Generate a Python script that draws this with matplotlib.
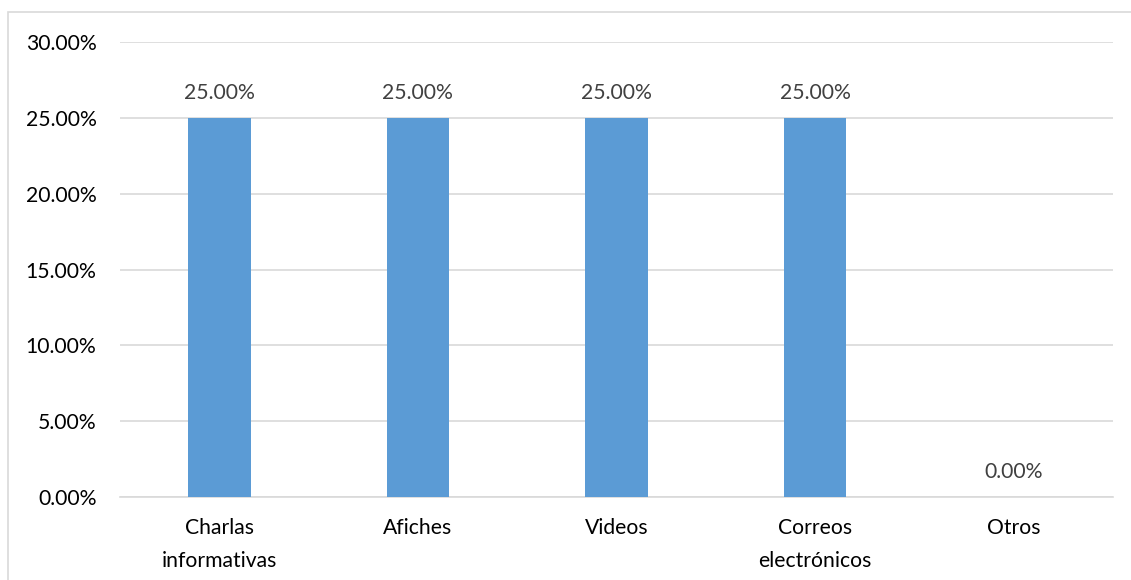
import matplotlib
matplotlib.use("Agg")
import matplotlib.pyplot as plt
from matplotlib.patches import Rectangle

categories = ["Charlas\ninformativas", "Afiches", "Videos", "Correos\nelectrónicos", "Otros"]
values = [0.25, 0.25, 0.25, 0.25, 0.0]
yticks = [0.0, 0.05, 0.10, 0.15, 0.20, 0.25, 0.30]

plt.rcParams['font.family'] = ['Lato', 'DejaVu Sans']

W, H = 1131, 580
fig = plt.figure(figsize=(W / 100, H / 100), dpi=100)
fig.patches.append(Rectangle((8 / W, -0.1), 1.2, 1 - 12 / H + 0.1, transform=fig.transFigure,
                             fill=False, edgecolor='#D9D9D9', linewidth=1.2))

ax = fig.add_axes([120 / W, 1 - 497 / H, (1113 - 120) / W, (497 - 42) / H])
x = list(range(len(categories)))
ax.bar(x, values, width=0.315, color='#5B9BD5', zorder=3)
ax.set_xlim(-0.5, len(categories) - 0.5)
ax.set_ylim(0, 0.30)
ax.set_yticks(yticks)
ax.set_yticklabels([f"{v*100:.2f}%" for v in yticks], fontsize=15.2, color='#000000')
ax.set_xticks(x)
ax.set_xticklabels(categories, fontsize=15.2, color='#000000', linespacing=1.8)
ax.tick_params(axis='both', length=0)
ax.tick_params(axis='y', pad=17)
ax.tick_params(axis='x', pad=15)
ax.grid(axis='y', color='#D9D9D9', linewidth=1.2, zorder=0)
for s in ['top', 'right', 'left']:
    ax.spines[s].set_visible(False)
ax.spines['bottom'].set_color('#D9D9D9')
ax.spines['bottom'].set_linewidth(1.2)

for xi, v in zip(x, values):
    ax.annotate(f"{v*100:.2f}%", (xi, v), xytext=(0, 18), textcoords='offset points',
                ha='center', va='center', fontsize=15.2, color='#404040')

fig.savefig("out.png", dpi=100)
